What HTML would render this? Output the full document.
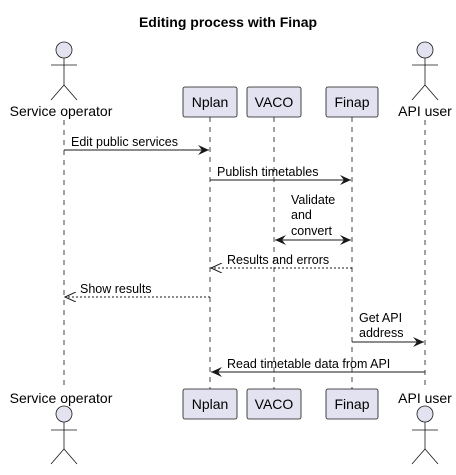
<!DOCTYPE html>
<html><head><meta charset="utf-8"><style>
html,body{margin:0;padding:0;background:#fff;}
svg text{font-family:"Liberation Sans","DejaVu Sans",sans-serif;}
</style></head><body>
<svg width="456" height="470" viewBox="0 0 456 470" xmlns="http://www.w3.org/2000/svg">
<defs>
<marker id="a" markerWidth="12" markerHeight="10" refX="11" refY="5" orient="auto-start-reverse" markerUnits="userSpaceOnUse">
<path d="M0,0 L11,5 L0,10 L4,5 Z" fill="#181818"/></marker>
<marker id="o" markerWidth="12" markerHeight="10" refX="11" refY="5" orient="auto-start-reverse" markerUnits="userSpaceOnUse">
<path d="M0,0 L11,5 L0,10" fill="none" stroke="#181818" stroke-width="1"/></marker>
</defs>
<text x="228" y="27" text-anchor="middle" font-size="14" font-weight="bold">Editing process with Finap</text>
<g stroke="#181818" stroke-width="0.8" stroke-dasharray="5,5">
<line x1="64" y1="120" x2="64" y2="388"/>
<line x1="210" y1="117" x2="210" y2="389"/>
<line x1="274" y1="117" x2="274" y2="389"/>
<line x1="352" y1="117" x2="352" y2="389"/>
<line x1="425" y1="120" x2="425" y2="388"/>
</g>
<g fill="#E2E2F0" stroke="#181818" stroke-width="0.8">
<circle cx="64" cy="50" r="8"/><line x1="64" y1="58" x2="64" y2="85"/><line x1="51" y1="65" x2="77" y2="65"/><polyline fill="none" points="51,100 64,85 77,100"/>
<circle cx="425" cy="50" r="8"/><line x1="425" y1="58" x2="425" y2="85"/><line x1="412" y1="65" x2="438" y2="65"/><polyline fill="none" points="412,100 425,85 438,100"/>
<circle cx="64" cy="414" r="8"/><line x1="64" y1="422" x2="64" y2="449"/><line x1="51" y1="430" x2="77" y2="430"/><polyline fill="none" points="51,464 64,449 77,464"/>
<circle cx="425" cy="414" r="8"/><line x1="425" y1="422" x2="425" y2="449"/><line x1="412" y1="430" x2="438" y2="430"/><polyline fill="none" points="412,464 425,449 438,464"/>
<rect x="183" y="87" width="54" height="30" rx="2"/><rect x="247" y="87" width="54" height="30" rx="2"/><rect x="326" y="87" width="52" height="30" rx="2"/>
<rect x="183" y="389" width="54" height="30" rx="2"/><rect x="247" y="389" width="54" height="30" rx="2"/><rect x="326" y="389" width="52" height="30" rx="2"/>
</g>
<g font-size="14" text-anchor="middle" fill="#000">
<text x="61" y="116">Service operator</text><text x="425" y="116">API user</text>
<text x="210" y="107">Nplan</text><text x="274" y="107">VACO</text><text x="352" y="107">Finap</text>
<text x="61" y="403">Service operator</text><text x="425" y="403">API user</text>
<text x="210" y="409">Nplan</text><text x="274" y="409">VACO</text><text x="352" y="409">Finap</text>
</g>
<g stroke="#181818" stroke-width="1" fill="none">
<line x1="64" y1="150" x2="209" y2="150" marker-end="url(#a)"/>
<line x1="210" y1="180" x2="351" y2="180" marker-end="url(#a)"/>
<line x1="275" y1="240" x2="351" y2="240" marker-end="url(#a)" marker-start="url(#a)"/>
<line x1="352" y1="268" x2="211" y2="268" stroke-dasharray="2,2" marker-end="url(#o)"/>
<line x1="210" y1="297" x2="65" y2="297" stroke-dasharray="2,2" marker-end="url(#o)"/>
<line x1="352" y1="342" x2="424" y2="342" marker-end="url(#a)"/>
<line x1="425" y1="372" x2="211" y2="372" marker-end="url(#a)"/>
</g>
<g font-size="12.5" fill="#000">
<text x="71" y="146">Edit public services</text>
<text x="217" y="176">Publish timetables</text>
<text x="291" y="204">Validate</text><text x="291" y="219">and</text><text x="291" y="235">convert</text>
<text x="227" y="264">Results and errors</text>
<text x="80" y="293">Show results</text>
<text x="359" y="322">Get API</text><text x="359" y="337">address</text>
<text x="227" y="368">Read timetable data from API</text>
</g>
</svg>
</body></html>
